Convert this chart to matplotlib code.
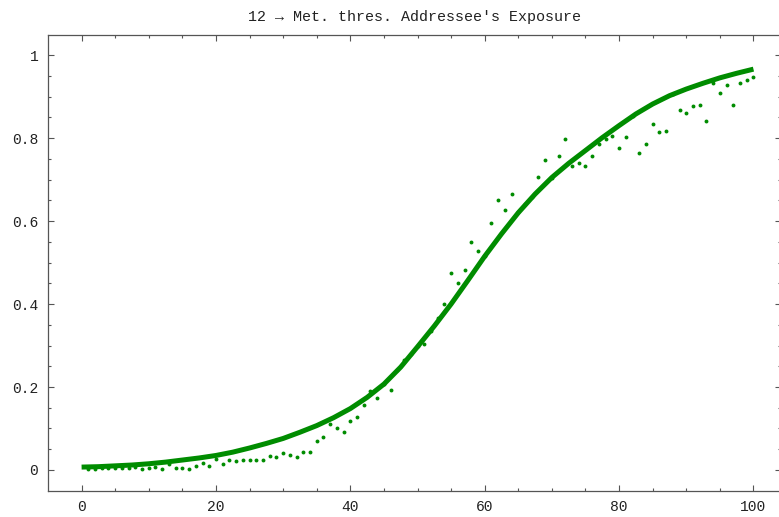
import numpy as np
import matplotlib.pyplot as plt

# fitted curve (read every 2.5 units)
curve_x = [0, 2.5, 5, 7.5, 10, 12.5, 15, 17.5, 20, 22.5, 25, 27.5, 30, 32.5,
           35, 37.5, 40, 42.5, 45, 47.5, 50, 52.5, 55, 57.5, 60, 62.5, 65,
           67.5, 70, 72.5, 75, 77.5, 80, 82.5, 85, 87.5, 90, 92.5, 95, 97.5, 100]
curve_y = [0.007, 0.008, 0.010, 0.012, 0.015, 0.019, 0.024, 0.029, 0.035, 0.043,
           0.053, 0.064, 0.076, 0.091, 0.107, 0.126, 0.148, 0.175, 0.207, 0.248,
           0.297, 0.347, 0.400, 0.457, 0.515, 0.569, 0.620, 0.665, 0.705, 0.739,
           0.770, 0.801, 0.830, 0.858, 0.882, 0.902, 0.918, 0.932, 0.945, 0.956,
           0.966]

# observed points, x = 1..100
obs_x = list(range(1, 101))
obs_y = [0.002, 0.002, 0.004, 0.006, 0.006, 0.004, 0.006, 0.007, 0.003, 0.004,
         0.007, 0.002, 0.014, 0.006, 0.006, 0.003, 0.009, 0.017, 0.010, 0.026,
         0.015, 0.024, 0.021, 0.025, 0.024, 0.023, 0.024, 0.034, 0.031, 0.041,
         0.035, 0.032, 0.043, 0.043, 0.071, 0.080, 0.110, 0.100, 0.092, 0.119,
         0.128, 0.157, 0.190, 0.174, 0.208, 0.193, 0.240, 0.265, 0.280, 0.300,
         0.304, 0.335, 0.366, 0.400, 0.474, 0.451, 0.482, 0.549, 0.528, 0.516,
         0.595, 0.651, 0.627, 0.664, 0.622, 0.640, 0.657, 0.705, 0.746, 0.704,
         0.757, 0.798, 0.733, 0.739, 0.733, 0.757, 0.785, 0.798, 0.805, 0.775,
         0.802, 0.853, 0.764, 0.786, 0.835, 0.815, 0.818, 0.905, 0.867, 0.860,
         0.876, 0.880, 0.841, 0.932, 0.908, 0.928, 0.880, 0.933, 0.940, 0.948]

title = "12 \u2192 Met. thres. Addressee's Exposure"
green = '#008c00'

plt.rcParams['font.family'] = ['Liberation Mono', 'DejaVu Sans Mono']

fig = plt.figure(figsize=(7.79, 5.17), dpi=100)
ax = fig.add_axes([48/779, 26.3/517, 733/779, 456/517])

ax.plot(curve_x, curve_y, color=green, linewidth=3.6, solid_capstyle='butt',
        solid_joinstyle='round')
ax.plot(obs_x, obs_y, 'o', color=green, markersize=2.8, markeredgewidth=0)

ax.set_xlim(-5.0, 104.1)
ax.set_ylim(-0.0499, 1.049)

ax.set_xticks([0, 20, 40, 60, 80, 100])
ax.set_xticklabels(['0', '20', '40', '60', '80', '100'])
ax.set_xticks(np.arange(0, 101, 5), minor=True)
ax.set_yticks([0, 0.2, 0.4, 0.6, 0.8, 1.0])
ax.set_yticklabels(['0', '0.2', '0.4', '0.6', '0.8', '1'])
ax.set_yticks(np.arange(0, 1.01, 0.05), minor=True)

ax.tick_params(which='both', direction='in', top=True, right=True,
               color='#555555', width=0.8, labelsize=10.5, labelcolor='#222222')
ax.tick_params(which='major', length=4)
ax.tick_params(which='minor', length=2.2)
ax.tick_params(axis='x', pad=7)
ax.tick_params(axis='y', pad=7)

for s in ax.spines.values():
    s.set_color('#555555')
    s.set_linewidth(0.9)

ax.set_title(title, fontsize=10.8, color='#222222', pad=10)

fig.savefig('out.png', dpi=100)
